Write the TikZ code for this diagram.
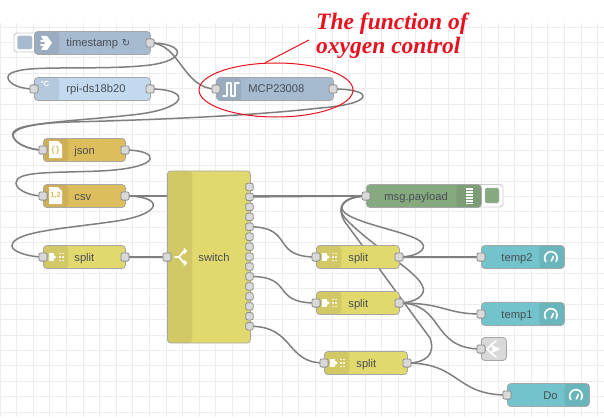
\documentclass[tikz,border=0pt]{standalone}
\usepackage{fontspec}
\setmainfont{Liberation Sans}
\newfontfamily\serifbi{Liberation Serif}
\newfontfamily\dejavu{DejaVu Sans}
\usetikzlibrary{shapes.geometric}
\pgfdeclarelayer{gridlayer}
\pgfdeclarelayer{wirelayer}
\pgfsetlayers{gridlayer,wirelayer,main}
\definecolor{injc}{HTML}{A6BBCF}
\definecolor{rpic}{HTML}{C2D9EF}
\definecolor{mcpc}{HTML}{A6BBCF}
\definecolor{jsonc}{HTML}{DEBD5C}
\definecolor{splitc}{HTML}{E2D96E}
\definecolor{dbgc}{HTML}{87A980}
\definecolor{uic}{HTML}{72C3CB}
\definecolor{linkc}{HTML}{D9D9D9}
\definecolor{wirec}{HTML}{7F7F7F}
\definecolor{txtc}{HTML}{4A4F55}
\definecolor{redc}{HTML}{E8111E}
\tikzset{
  x=1pt,y=-1pt,
  nr/.style n args={2}{draw=black!35,line width=.8pt,rounded corners=3.5pt,fill=#2,
    minimum height=23pt,inner xsep=0pt,inner ysep=0pt,text width=#1 pt,anchor=west,
    text height=9pt,text depth=1pt,
    text=txtc,font=\fontsize{11.2}{13}\selectfont},
  lstrip/.style={path picture={\fill[black,opacity=.07] (path picture bounding box.north west) rectangle ++(25,23);}},
  rstrip/.style={path picture={\fill[black,opacity=.07] (path picture bounding box.north east) rectangle ++(-25,23);}},
  port/.style={draw=black!45,fill=black!15,line width=.8pt,rounded corners=2pt,minimum size=8.2pt,inner sep=0pt},
  swport/.style={port,minimum size=7.4pt},
  btn/.style={draw=black!20,fill=white,line width=.9pt,rounded corners=3pt},
  wire/.style={draw=wirec,line width=1.5pt},
  glyph/.style={draw=white,line width=1.7pt,line cap=round,line join=round},
  gridl/.style={draw=black!7,line width=.8pt},
}
\newcommand{\gauge}[2]{\draw[glyph] (#1-5.2,#2+3.6) arc[start angle=145,end angle=395,radius=6.3];\draw[glyph] (#1+.3,#2+3)--(#1+2.4,#2-1.5);}
\newcommand{\splitglyph}[2]{\fill[white] (#1,#2-4) rectangle ++(5,8);\fill[white] (#1+5,#2-2)--(#1+8,#2)--(#1+5,#2+2)--cycle;
  \foreach \yy in {-3.5,0,3.5}{\fill[white,opacity=.8] (#1+10,#2+\yy-.9) rectangle ++(2,1.8);\fill[white,opacity=.8] (#1+13,#2+\yy-.9) rectangle ++(2,1.8);}}
\begin{document}
\begin{tikzpicture}
\useasboundingbox (0,0) rectangle (604,417);
% Nodes
\path[btn] (14,33) rectangle (40,52);
\path[fill=injc,draw=black!30,rounded corners=2pt] (17.5,36) rectangle (32,49);
\node[nr={116}{injc},lstrip] (inject) at (34,43) {\hspace*{32pt}timestamp {\dejavu\fontsize{10}{12}\selectfont ↻}};
\node[nr={116}{rpic},lstrip] (rpi) at (34,89) {\hspace*{32pt}rpi-ds18b20};
\node[nr={117}{mcpc},lstrip] (mcp) at (216,89) {\hspace*{32pt}MCP23008};
\node[nr={82}{jsonc},lstrip] (json) at (43,150) {\hspace*{31pt}json};
\node[nr={82}{jsonc},lstrip] (csv) at (43,196) {\hspace*{31pt}csv};
\node[nr={82}{splitc},lstrip] (split1) at (43,257) {\hspace*{31pt}split};
\node[draw=black!35,line width=.8pt,rounded corners=3.5pt,fill=splitc,minimum height=172pt,inner xsep=0pt,inner ysep=0pt,text width=83pt,anchor=west,text height=9pt,text depth=1pt,text=txtc,font=\fontsize{11.2}{13}\selectfont,
  path picture={\fill[black,opacity=.07] (path picture bounding box.north west) rectangle ++(25,172);}] (switch) at (167,257) {\hspace*{31pt}switch};
\path[btn] (470,184.5) rectangle (503,207);
\path[fill=dbgc,draw=black!25,rounded corners=2pt] (485,188) rectangle (499,203);
\node[nr={115}{dbgc},rstrip] (debug) at (366,196) {\hspace*{18pt}msg.payload};
\node[nr={83}{splitc},lstrip] (split2) at (316,257) {\hspace*{32pt}split};
\node[nr={83}{splitc},lstrip] (split3) at (316,303) {\hspace*{32pt}split};
\node[nr={83}{splitc},lstrip] (split4) at (324,363) {\hspace*{32pt}split};
\node[nr={83}{uic},rstrip] (temp2) at (481,257) {\hspace*{20pt}temp2};
\node[nr={83}{uic},rstrip] (temp1) at (481,314) {\hspace*{20pt}temp1};
\node[nr={25}{linkc}] (linkout) at (481,349) {};
\node[nr={82}{uic},rstrip] (do) at (507,395) {\hspace*{36pt}Do};
% Ports
\node[port] (injo) at (150,43) {};
\node[port] (rpii) at (34,89) {};
\node[port] (rpio) at (150,89) {};
\node[port] (mcpi) at (216,89) {};
\node[port] (mcpo) at (333,89) {};
\node[port] (jsoni) at (43,150) {};
\node[port] (jsono) at (125,150) {};
\node[port] (csvi) at (43,196) {};
\node[port] (csvo) at (125,196) {};
\node[port] (spl1i) at (43,257) {};
\node[port] (spl1o) at (125,257) {};
\node[port] (swi) at (167,257) {};
\foreach \k in {1,...,15}{\node[swport] (sw\k) at (249.5,177+9.95*\k) {};}
\node[port] (dbgi) at (366,196) {};
\node[port] (spl2i) at (316,257) {};
\node[port] (spl2o) at (399,257) {};
\node[port] (spl3i) at (316,303) {};
\node[port] (spl3o) at (399,303) {};
\node[port] (spl4i) at (324,363) {};
\node[port] (spl4o) at (407,363) {};
\node[port] (t2i) at (481,257) {};
\node[port] (t1i) at (481,314) {};
\node[port] (lki) at (481,349) {};
\node[port] (doi) at (507,395) {};
% Glyphs
\fill[white] (41,36) -- (47,36) -- (52,43) -- (47,50) -- (41,50) -- (45,43) -- cycle;
\draw[glyph] (41,41)--(46,41) (41,45)--(46,45);
\node[text=white,font=\bfseries\fontsize{7.5}{8}\selectfont,inner sep=0pt] at (45,84) {°C};
\draw[glyph,line width=1.5pt] (223,96)--(227,96)--(227,83)--(231,83)--(231,96)--(235,96)--(235,83)--(239,83);
\fill[white] (49,141)--(58,141)--(62,145)--(62,158)--(49,158)--cycle;
\node[text=jsonc,font=\bfseries\fontsize{8.5}{8}\selectfont,inner sep=0pt] at (55.5,150) {\{\,\}};
\fill[white] (49,187)--(58,187)--(62,191)--(62,204)--(49,204)--cycle;
\node[text=jsonc,font=\bfseries\fontsize{7.5}{8}\selectfont,inner sep=0pt] at (55.5,195) {1,2};
\splitglyph{48.5}{257}
\splitglyph{322}{257}
\splitglyph{322}{303}
\splitglyph{330}{363}
\draw[glyph] (175,257)--(179,257)--(184,251)--(186,251) (179,257)--(184,263)--(186,263);
\draw[glyph,line width=1.3pt] (184,248.5)--(186.5,251)--(184,253.5) (184,260.5)--(186.5,263)--(184,265.5);
\foreach \yy in {189,192,195,198,201,203.5}{\draw[white,line width=1.5pt] (466,\yy)--(473,\yy);}
\gauge{551}{258}
\gauge{551}{315}
\gauge{576}{396}
\draw[glyph,line width=1.5pt] (487,349)--(491,345)--(496,341);
\draw[glyph,line width=1.5pt] (487,349)--(491,353)--(496,357);
\fill[white] (490,344)--(500,349)--(490,354)--(493,349)--cycle;
% Red annotation
\node[draw=redc,line width=1pt,ellipse,minimum width=154pt,minimum height=54pt,inner sep=0pt] (oxy) at (276,90) {};
\coordinate (calloutend) at (309,40);
\draw[redc,line width=1pt] (oxy.112) -- (calloutend);
\node[text=redc,inner sep=0pt,align=left,anchor=north west,font=\serifbi\bfseries\itshape\fontsize{23.5}{24.5}\selectfont] (title) at (316,12.5) {The function of\\oxygen control};
% Wires
\begin{pgfonlayer}{wirelayer}
\draw[wire] (injo.center) .. controls (185,43) and (188,60) .. (150,65) .. controls (110,70) and (45,66) .. (22,70) .. controls (12,72) and (7,74) .. (8,78) .. controls (9,84) and (20,89) .. (rpii.center);
\draw[wire] (injo.center) .. controls (180,43) and (183,89) .. (mcpi.center);
\draw[wire] (rpio.center) .. controls (190,89) and (190,107) .. (140,114) .. controls (100,119) and (35,122) .. (20,128) .. controls (14,130) and (12,133) .. (13,136) .. controls (15,144) and (30,150) .. (jsoni.center);
\draw[wire] (mcpo.center) .. controls (375,89) and (375,104) .. (320,108) .. controls (250,116) and (150,120) .. (70,122) .. controls (35,123) and (12,128) .. (13,136) .. controls (15,144) and (30,150) .. (jsoni.center);
\draw[wire] (jsono.center) .. controls (160,150) and (165,168) .. (100,171) .. controls (50,173) and (16,171) .. (16,183) .. controls (16,190) and (30,196) .. (csvi.center);
\draw[wire] (csvo.center) -- (dbgi.center);
\draw[wire] (csvo.center) .. controls (165,196) and (165,215) .. (110,222) .. controls (60,229) and (12,232) .. (12,246) .. controls (12,252) and (30,257) .. (spl1i.center);
\draw[wire] (spl1o.center) -- (swi.center);
\draw[wire] (sw2.center) -- (dbgi.center);
\draw[wire] (sw5.center) .. controls (295,227) and (270,257) .. (spl2i.center);
\draw[wire] (sw10.center) .. controls (295,276) and (270,303) .. (spl3i.center);
\draw[wire] (sw15.center) .. controls (295,326) and (285,363) .. (spl4i.center);
\draw[wire] (spl2o.center) -- (t2i.center);
\draw[wire] (spl2o.center) .. controls (415,257) and (428,250) .. (422,243) .. controls (415,233) and (360,225) .. (345,213) .. controls (338,207) and (342,197) .. (dbgi.center);
\draw[wire] (spl3o.center) .. controls (415,303) and (428,295) .. (422,285) .. controls (415,270) and (370,245) .. (345,218) .. controls (336,208) and (342,197) .. (dbgi.center);
\draw[wire] (spl4o.center) .. controls (425,363) and (436,355) .. (430,338) .. controls (405,304) and (370,256) .. (345,222) .. controls (336,208) and (342,197) .. (dbgi.center);
\draw[wire] (spl3o.center) .. controls (445,303) and (445,314) .. (t1i.center);
\draw[wire] (spl3o.center) .. controls (445,303) and (430,349) .. (lki.center);
\draw[wire] (spl4o.center) .. controls (460,363) and (455,395) .. (doi.center);
\end{pgfonlayer}
\begin{pgfonlayer}{gridlayer}
\fill[white] (0,0) rectangle (604,417);
\foreach \k in {0,...,36}{\draw[gridl] ({16.6*\k},23) -- ({16.6*\k},417);}
\foreach \k in {0,...,25}{\draw[gridl] (0,{27+15.4*\k}) -- (604,{27+15.4*\k});}
\end{pgfonlayer}
\end{tikzpicture}
\end{document}
